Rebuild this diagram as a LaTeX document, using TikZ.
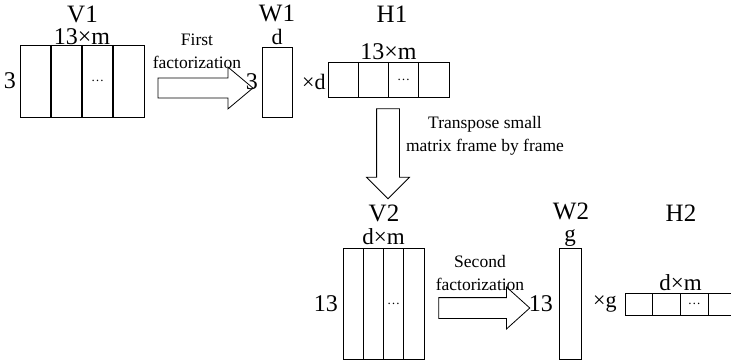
\documentclass[tikz,border=0pt]{standalone}
\usepackage{fontspec}
\setmainfont{Liberation Serif}
\usetikzlibrary{calc,positioning,shapes.arrows}
\newcommand{\fsz}[2][1.2]{\fontsize{#2}{#1\dimexpr #2pt\relax}\selectfont}
\tikzset{
  mat/.style={draw, line width=0.8pt, inner sep=0pt, outer sep=0pt},
  blockarrow/.style={single arrow, draw, line width=0.8pt, inner sep=#1,
    outer sep=0pt},
  blockarrow/.default=10pt,
  mname/.style={font=\fsz{25}, inner sep=0pt},
  mdim/.style={font=\fsz{24}, inner sep=0pt},
  msmall/.style={font=\fsz{22}, inner sep=0pt},
  cdots/.style={font=\fsz{13}, inner sep=0pt},
  note/.style={font=\fsz[1.3]{17.5}, align=center, inner sep=0pt}
}

\begin{document}
\begin{tikzpicture}[x=1pt,y=-1pt]
  \useasboundingbox (0,0) rectangle (731,361);
  % matrices
  \node[mat, minimum width=124pt, minimum height=72pt] (V1) at (82,81) {};
  \node[mat, minimum width=30pt, minimum height=70pt] (W1) at (277,82) {};
  \node[mat, minimum width=121pt, minimum height=35pt] (H1) at (388.5,79.5) {};
  \node[mat, minimum width=81pt, minimum height=111pt] (V2) at (383.5,303.5) {};
  \node[mat, minimum width=22pt, minimum height=111pt] (W2) at (570,303.5) {};
  \node[mat, minimum width=111pt, minimum height=22pt] (H2) at (680.5,304) {};

  % frames inside the matrices
  \foreach \m/\w in {V1/1.4pt, H1/0.8pt, V2/0.8pt, H2/0.8pt} {
    \foreach \i in {1,2,3}
      \draw[line width=\w] ($(\m.north west)!\i/4!(\m.north east)$)
        -- ($(\m.south west)!\i/4!(\m.south east)$);
    \node[cdots] (\m-dots) at ($(\m.west)!0.625!(\m.east)$) {\ldots};
  }

  % names and sizes
  \node[mname] (V1-name) at (82.5,14) {V1};
  \node[mdim, above=0pt of V1] (V1-size) {13×m};
  \node[mdim, left=4pt of V1] (V1-rows) {3};

  \node[mname] (W1-name) at (277,13) {W1};
  \node[msmall, above=2pt of W1] (W1-size) {d};
  \node[mdim, left=4pt of W1] (W1-rows) {3};
  \node[msmall, right=10pt of W1] (W1-times) {×d};

  \node[mname] (H1-name) at (392,14) {H1};
  \node[mdim, above=2pt of H1] (H1-size) {13×m};

  \node[mname] (V2-name) at (384,213) {V2};
  \node[msmall, font=\fsz{23}, above=3pt of V2] (V2-size) {d×m};
  \node[mdim, left=5pt of V2] (V2-rows) {13};

  \node[mname] (W2-name) at (571,211) {W2};
  \node[msmall, font=\fsz{23}, above=1pt of W2] (W2-size) {g};
  \node[mdim, left=6pt of W2] (W2-rows) {13};
  \node[msmall, right=12pt of W2] (W2-times) {×g};

  \node[mname] (H2-name) at (681,213) {H2};
  \node[msmall, font=\fsz{23}, above=2pt of H2] (H2-size) {d×m};

  % block arrows
  \node[blockarrow=9.5pt, minimum height=95pt, single arrow head extend=11pt,
    single arrow tip angle=80] (A1) at (199.5,88) {};
  \node[note] (A1-text) at (197,51) {First\\factorization};

  \node[blockarrow=11pt, shape border rotate=270, minimum height=90pt,
    single arrow head extend=10pt, single arrow tip angle=90] (A2) at (388,148) {};
  \node[note] (A2-text) at (485,136) {Transpose small\\matrix frame by frame};

  \node[blockarrow=10pt, minimum height=91pt, single arrow head extend=10.5pt,
    single arrow tip angle=84] (A3) at (478.5,308) {};
  \node[note] (A3-text) at (480,273) {Second\\factorization};
\end{tikzpicture}
\end{document}
